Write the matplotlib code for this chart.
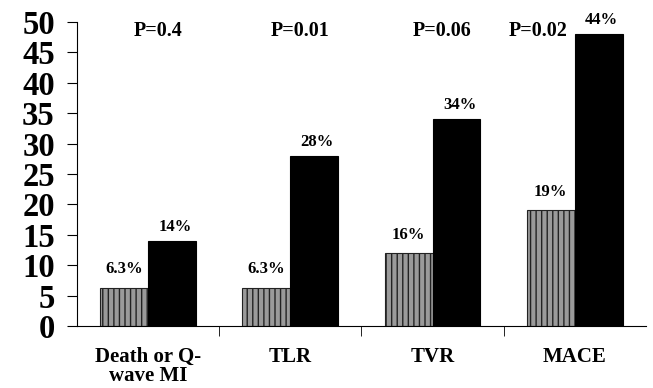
import matplotlib
matplotlib.use('Agg')
import matplotlib.pyplot as plt
import numpy as np

plt.rcParams['font.family'] = 'Liberation Serif'
plt.rcParams['font.weight'] = 'bold'
plt.rcParams['hatch.color'] = '#4a4a4a'
plt.rcParams['hatch.linewidth'] = 1.0

categories = ['Death or Q-\nwave MI', 'TLR', 'TVR', 'MACE']
gray_vals = [6.3, 6.3, 12, 19]
black_vals = [14, 28, 34, 48]
gray_labels = ['6.3%', '6.3%', '16%', '19%']
black_labels = ['14%', '28%', '34%', '44%']
p_labels = ['P=0.4', 'P=0.01', 'P=0.06', 'P=0.02']

fig = plt.figure(figsize=(6.53, 3.88), dpi=100)
ax = fig.add_axes([0.118, 0.160, 0.871, 0.783])

x = np.arange(len(categories))
w = 0.337
ax.bar(x - w/2, gray_vals, w, color='#9a9a9a', edgecolor='#222222', hatch='|||', linewidth=0.8)
ax.bar(x + w/2, black_vals, w, color='black', edgecolor='black', linewidth=0.8)

for i in range(len(x)):
    ax.text(x[i] - 0.17, gray_vals[i] + 3.0, gray_labels[i], ha='center', va='center', fontsize=12)
    ax.text(x[i] + 0.19, black_vals[i] + 2.3, black_labels[i], ha='center', va='center', fontsize=12)
    # last p-value sits left of the tall MACE bar
    px = x[i] + 0.07 if i < 3 else x[i] - 0.26
    ax.text(px, 48.6, p_labels[i], ha='center', va='center', fontsize=14.5)

ax.set_xlim(-0.5, len(x) - 0.5)
ax.set_ylim(0, 50)
ax.set_yticks(range(0, 51, 5))
ax.set_yticklabels([str(v) for v in range(0, 51, 5)], fontsize=23.5)
ax.set_xticks(x)
ax.set_xticklabels(categories, fontsize=15, linespacing=0.95)
ax.set_xticks(np.arange(0.5, len(x) - 0.5, 1), minor=True)
ax.tick_params(axis='x', which='major', length=0, pad=15)
ax.tick_params(axis='x', which='minor', length=7, direction='out')
ax.tick_params(axis='y', length=7, direction='out', pad=9)
for s in ['top', 'right']:
    ax.spines[s].set_visible(False)

fig.savefig('out.png', dpi=100)
